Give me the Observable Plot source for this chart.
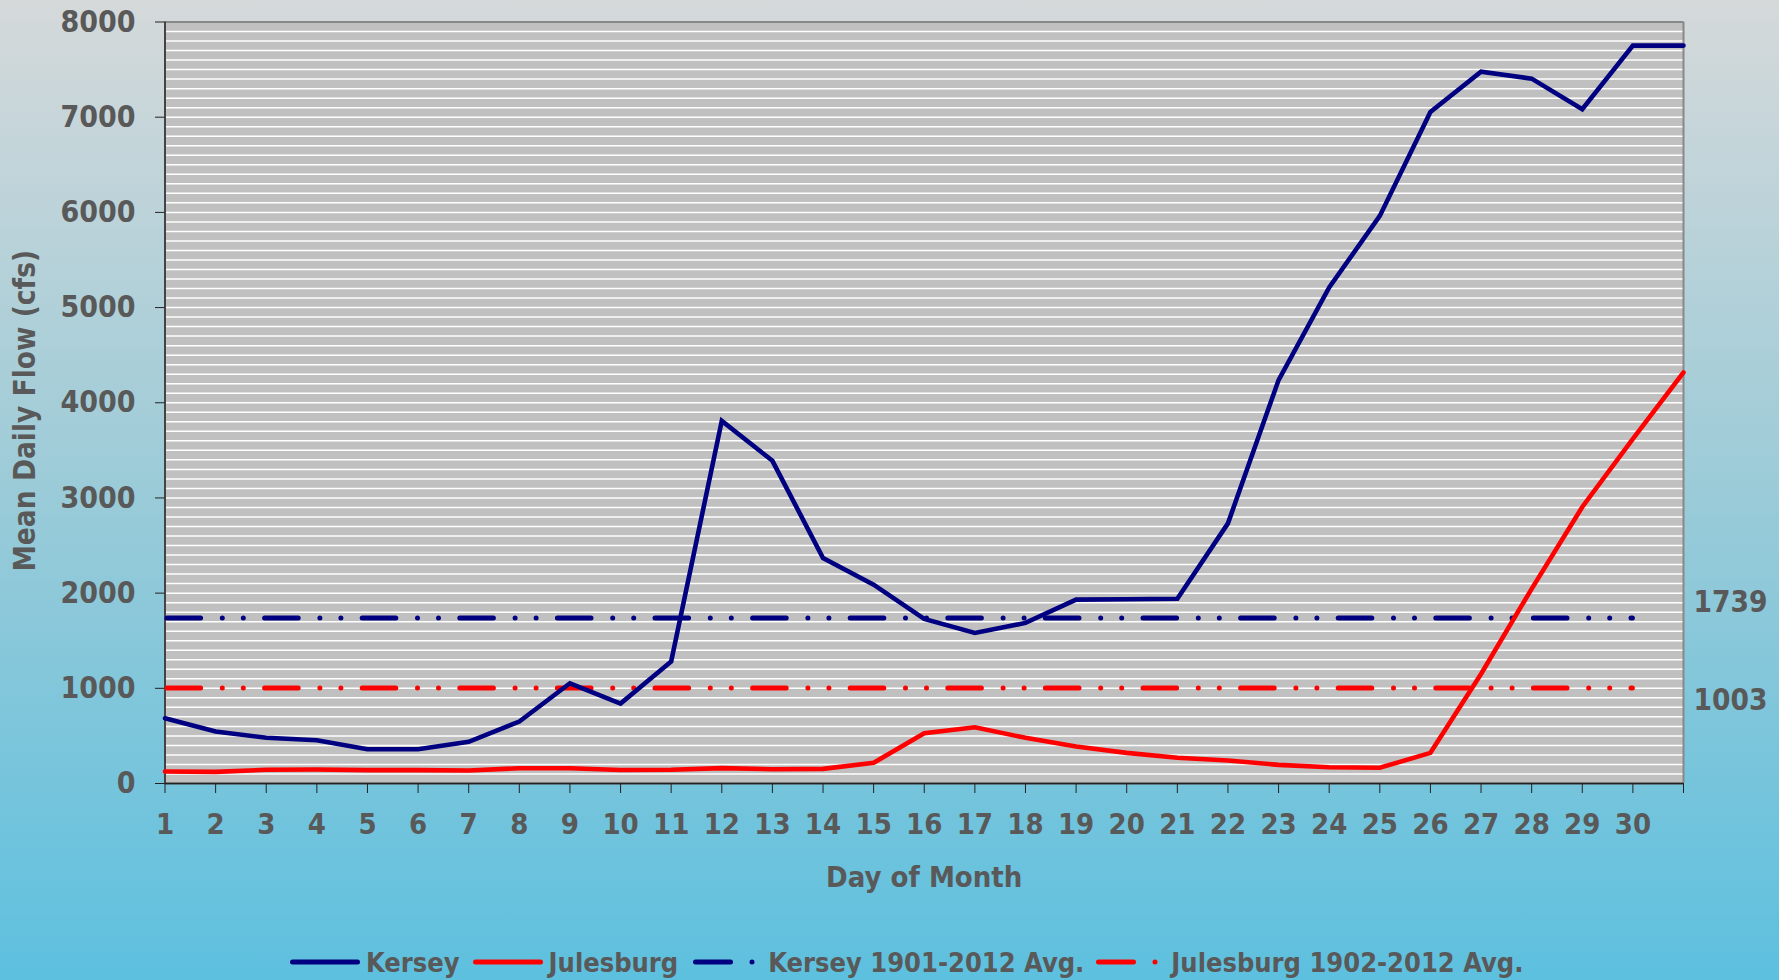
<!DOCTYPE html>
<html>
<head>
<meta charset="utf-8">
<script src="https://cdn.jsdelivr.net/npm/d3@7"></script>
<script src="https://cdn.jsdelivr.net/npm/@observablehq/plot@0.6"></script>
<style>
  html, body { margin: 0; padding: 0; width: 1779px; height: 980px; overflow: hidden; }
  body {
    background: linear-gradient(to bottom, #d5d9da 0%, #9bcbd8 50%, #5dc0df 100%);
    font-family: "DejaVu Sans Condensed", "DejaVu Sans", sans-serif;
    font-stretch: semi-condensed;
    font-weight: bold;
    color: #595959;
    position: relative;
  }
  #chart { position: absolute; left: 0; top: 0; }
  #legend {
    position: absolute; left: 290px; top: 942px; height: 40px;
    display: flex; align-items: center; font-size: 27px; white-space: nowrap;
  }
  #legend .item { display: flex; align-items: center; }
  #legend svg { display: block; }
  #legend span { margin-left: 6px; }
</style>
</head>
<body>
<div id="chart"></div>
<div id="legend"></div>
<script>
// ---- data ----
const days = [1,2,3,4,5,6,7,8,9,10,11,12,13,14,15,16,17,18,19,20,21,22,23,24,25,26,27,28,29,30,31];
const kersey = [685,546,480,455,360,360,438,651,1053,840,1282,3810,3390,2369,2089,1729,1582,1687,1932,1935,1940,2733,4238,5211,5963,7055,7478,7405,7083,7752,7752];
const julesburg = [126,122,144,147,140,140,136,161,161,142,145,161,150,154,217,528,591,480,388,322,270,241,196,171,165,322,1150,2045,2905,3620,4318];
const seriesNames = ["Kersey", "Julesburg", "Kersey 1901-2012 Avg.", "Julesburg 1902-2012 Avg."];
const seriesColors = ["#000080", "#ff0000", "#000080", "#ff0000"];
const averages = [1739, 1003];
const xTickLabels = ["1","2","3","4","5","6","7","8","9","10","11","12","13","14","15","16","17","18","19","20","21","22","23","24","25","26","27","28","29","30",""];
const yTicks = [0,1000,2000,3000,4000,5000,6000,7000,8000];
const xTitle = "Day of Month";
const yTitle = "Mean Daily Flow (cfs)";

// ---- tables ----
const kerseyRows = days.map((d, i) => ({day: d, flow: kersey[i]}));
const julesRows = days.map((d, i) => ({day: d, flow: julesburg[i]}));
const avgDash = "33.6,21.7,0,21,0,21.3";
const font = "'DejaVu Sans Condensed', 'DejaVu Sans', sans-serif";

const chart = Plot.plot({
  width: 1779,
  height: 930,
  marginLeft: 164.5,
  marginRight: 96,
  marginTop: 21.5,
  marginBottom: 147,
  style: {background: "none", fontFamily: font, fontSize: "29px", fontWeight: "bold", color: "#595959", overflow: "visible"},
  x: {domain: [days[0], days[days.length - 1]]},
  y: {domain: [yTicks[0], yTicks[yTicks.length - 1]]},
  marks: [
    Plot.frame({fill: "#c0c0c0", stroke: null}),
    Plot.gridY({interval: 100, stroke: "#ffffff", strokeOpacity: 1, strokeWidth: 1.5}),
    Plot.ruleY([yTicks[yTicks.length - 1]], {stroke: "#888888", strokeWidth: 2}),
    Plot.ruleX([days[days.length - 1]], {stroke: "#888888", strokeWidth: 2}),
    Plot.ruleX([days[0]], {stroke: "#444444", strokeWidth: 2}),
    Plot.ruleY([yTicks[0]], {stroke: "#222222", strokeWidth: 2}),
    Plot.axisY({ticks: yTicks, tickSize: 9.5, tickPadding: 20, stroke: "#222", fill: "#595959", fontSize: 30, fontWeight: "bold", label: null,
      tickFormat: d => String(d)}),
    Plot.axisX({ticks: days, tickSize: 10, tickPadding: 20, stroke: "#222", fill: "#595959", fontSize: 29, fontWeight: "bold", label: null,
      tickFormat: d => xTickLabels[days.indexOf(d)]}),
    Plot.ruleY([averages[0]], {x1: days[0], x2: days[days.length - 2], stroke: seriesColors[2], strokeWidth: 5, strokeDasharray: avgDash, strokeDashoffset: -2.5, strokeLinecap: "round"}),
    Plot.ruleY([averages[1]], {x1: days[0], x2: days[days.length - 2], stroke: seriesColors[3], strokeWidth: 5, strokeDasharray: avgDash, strokeDashoffset: -2.5, strokeLinecap: "round"}),
    Plot.line(julesRows, {x: "day", y: "flow", stroke: seriesColors[1], strokeWidth: 4.6, strokeLinejoin: "miter", strokeMiterlimit: 4}),
    Plot.line(kerseyRows, {x: "day", y: "flow", stroke: seriesColors[0], strokeWidth: 4.6, strokeLinejoin: "miter", strokeMiterlimit: 4}),
    Plot.text([averages[0]], {x: days[days.length - 1], y: d => d, text: d => String(d), textAnchor: "start", dx: 10, dy: -15, fill: "#595959", fontSize: 29.5, fontWeight: "bold"}),
    Plot.text([averages[1]], {x: days[days.length - 1], y: d => d, text: d => String(d), textAnchor: "start", dx: 10, dy: 12.5, fill: "#595959", fontSize: 29.5, fontWeight: "bold"}),
    Plot.text([xTitle], {frameAnchor: "bottom", lineAnchor: "middle", textAnchor: "middle", dy: 94, text: d => d, fill: "#595959", fontSize: 29, fontWeight: "bold"}),
    Plot.text([yTitle], {frameAnchor: "left", lineAnchor: "middle", textAnchor: "middle", dx: -139.5, dy: 8, rotate: -90, text: d => d, fill: "#595959", fontSize: 29.5, fontWeight: "bold"})
  ]
});
document.getElementById("chart").appendChild(chart);

// ---- legend ----
const legend = document.getElementById("legend");
const gaps = [0, 13, 14, 11];
seriesNames.forEach((name, i) => {
  const item = document.createElement("div");
  item.className = "item";
  item.style.marginLeft = gaps[i] + "px";
  const ns = "http://www.w3.org/2000/svg";
  const svg = document.createElementNS(ns, "svg");
  svg.setAttribute("width", 70);
  svg.setAttribute("height", 20);
  const line = document.createElementNS(ns, "line");
  line.setAttribute("y1", 10); line.setAttribute("y2", 10);
  line.setAttribute("stroke", seriesColors[i]);
  line.setAttribute("stroke-width", 5);
  line.setAttribute("stroke-linecap", "round");
  if (i < 2) {
    line.setAttribute("x1", 2.5); line.setAttribute("x2", 67.5);
  } else {
    line.setAttribute("x1", 3.5); line.setAttribute("x2", 66);
    line.setAttribute("stroke-dasharray", "35,21.5,0,100");
  }
  svg.appendChild(line);
  item.appendChild(svg);
  const span = document.createElement("span");
  span.textContent = name;
  item.appendChild(span);
  legend.appendChild(item);
});
</script>
</body>
</html>
